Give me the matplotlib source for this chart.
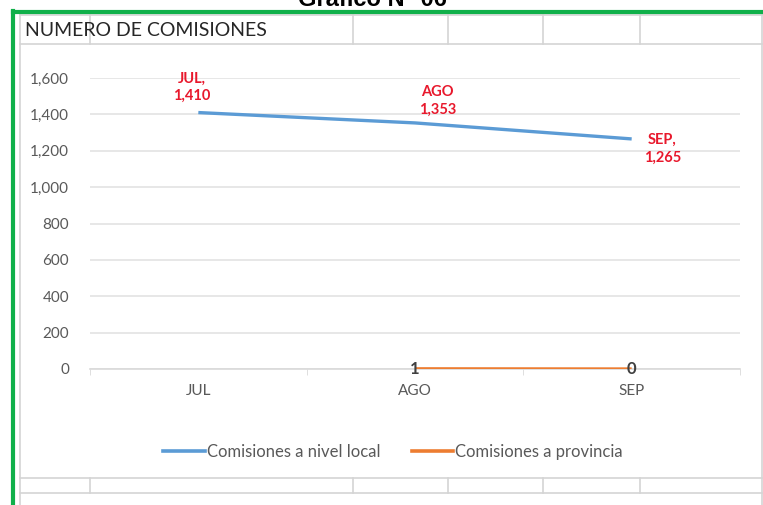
import matplotlib
matplotlib.use("Agg")
import matplotlib.pyplot as plt
from matplotlib.lines import Line2D
import numpy as np

plt.rcParams['font.family'] = ['Lato', 'DejaVu Sans']

# ---- data ----
months = ["JUL", "AGO", "SEP"]
local_vals = [1410, 1353, 1265]
prov_vals = [np.nan, 1, 0]
local_labels = ["JUL,\n1,410", "AGO\n1,353", "SEP,\n1,265"]
y_ticks = [0, 200, 400, 600, 800, 1000, 1200, 1400, 1600]
series_names = ["Comisiones a nivel local", "Comisiones a provincia"]
title_text = "NUMERO DE COMISIONES"
heading_text = "Gráfico N° 06"

W, H = 763, 505
fig = plt.figure(figsize=(W / 100, H / 100), dpi=100)
fig.patch.set_facecolor("white")

def fx(px):
    return px / W

def fy(py):
    return 1 - py / H

grid_col = "#D4D4D4"
# spreadsheet cell lines
for y in [15, 44, 478, 493]:
    fig.add_artist(Line2D([fx(20), fx(762)], [fy(y), fy(y)], color=grid_col, lw=1.2))
fig.add_artist(Line2D([fx(20), fx(20)], [fy(15), fy(505)], color=grid_col, lw=1.2))
fig.add_artist(Line2D([fx(762), fx(762)], [fy(15), fy(505)], color=grid_col, lw=1.2))
for x in [90, 353, 448, 543, 640]:
    fig.add_artist(Line2D([fx(x), fx(x)], [fy(15), fy(44)], color=grid_col, lw=1.2))
    fig.add_artist(Line2D([fx(x), fx(x)], [fy(478), fy(493)], color=grid_col, lw=1.2))

# green frame
green = "#10B04A"
fig.add_artist(Line2D([fx(13), fx(763)], [fy(12), fy(12)], color=green, lw=3))
fig.add_artist(Line2D([fx(13), fx(13)], [fy(11), fy(505)], color=green, lw=3))

# heading (partly cut off at top, as in the screenshot)
fig.text(fx(372), fy(6), heading_text, ha="center", va="baseline",
         fontsize=17, fontweight="bold", color="black", family=["Liberation Sans", "DejaVu Sans"])

# title in cell
fig.text(fx(25), fy(30), title_text, ha="left", va="center",
         fontsize=14, color="#262626")

# ---- chart ----
ax = fig.add_axes([fx(90), fy(369), fx(740) - fx(90), fy(78) - fy(369)])
ax.set_facecolor("white")
x = np.arange(len(months))
ax.plot(x, local_vals, color="#5B9BD5", lw=2.4, solid_capstyle="butt", zorder=3)
ax.plot(x, prov_vals, color="#ED7D31", lw=2.4, solid_capstyle="butt", zorder=3)

ax.set_xlim(-0.5, 2.5)
ax.set_ylim(0, 1600)
ax.set_yticks(y_ticks)
ax.set_yticklabels([f"{v:,}" for v in y_ticks])
ax.set_xticks(x)
ax.set_xticklabels(months)
ax.set_xticks([-0.5, 0.5, 1.5, 2.5], minor=True)
ax.tick_params(axis="x", which="major", length=0, pad=11, labelsize=11, labelcolor="#595959")
ax.tick_params(axis="x", which="minor", length=4, color="#D9D9D9", direction="out")
ax.tick_params(axis="y", length=0, pad=15, labelsize=11, labelcolor="#595959")
ax.grid(axis="y", color="#E3E3E3", lw=1.2, zorder=0)
for s in ["top", "right", "left"]:
    ax.spines[s].set_visible(False)
ax.spines["bottom"].set_color("#D9D9D9")
ax.spines["bottom"].set_linewidth(1.2)

# data labels local
offsets = [(-5, 18), (16, 16), (22, -7)]
for i, (lbl, (dx, dy)) in enumerate(zip(local_labels, offsets)):
    ax.annotate(lbl, (x[i], local_vals[i]), xytext=(dx, dy), textcoords="offset points",
                ha="center", va="center", fontsize=10.5, fontweight="bold", color="#E8182C",
                linespacing=1.3)
# data labels provincia
for i, v in enumerate(prov_vals):
    if not np.isnan(v):
        ax.annotate(f"{int(v)}", (x[i], v), xytext=(0, 0), textcoords="offset points",
                    ha="center", va="center", fontsize=12, fontweight="bold", color="#404040",
                    zorder=4)

handles = [Line2D([], [], color="#5B9BD5", lw=2.6), Line2D([], [], color="#ED7D31", lw=2.6)]
fig.legend(handles, series_names, loc="center", bbox_to_anchor=(fx(393), fy(452)), ncol=2,
           frameon=False, fontsize=12, handlelength=2.5, handletextpad=0.1,
           columnspacing=1.9, labelcolor="#595959")

fig.savefig("out.png", dpi=100, facecolor="white")
